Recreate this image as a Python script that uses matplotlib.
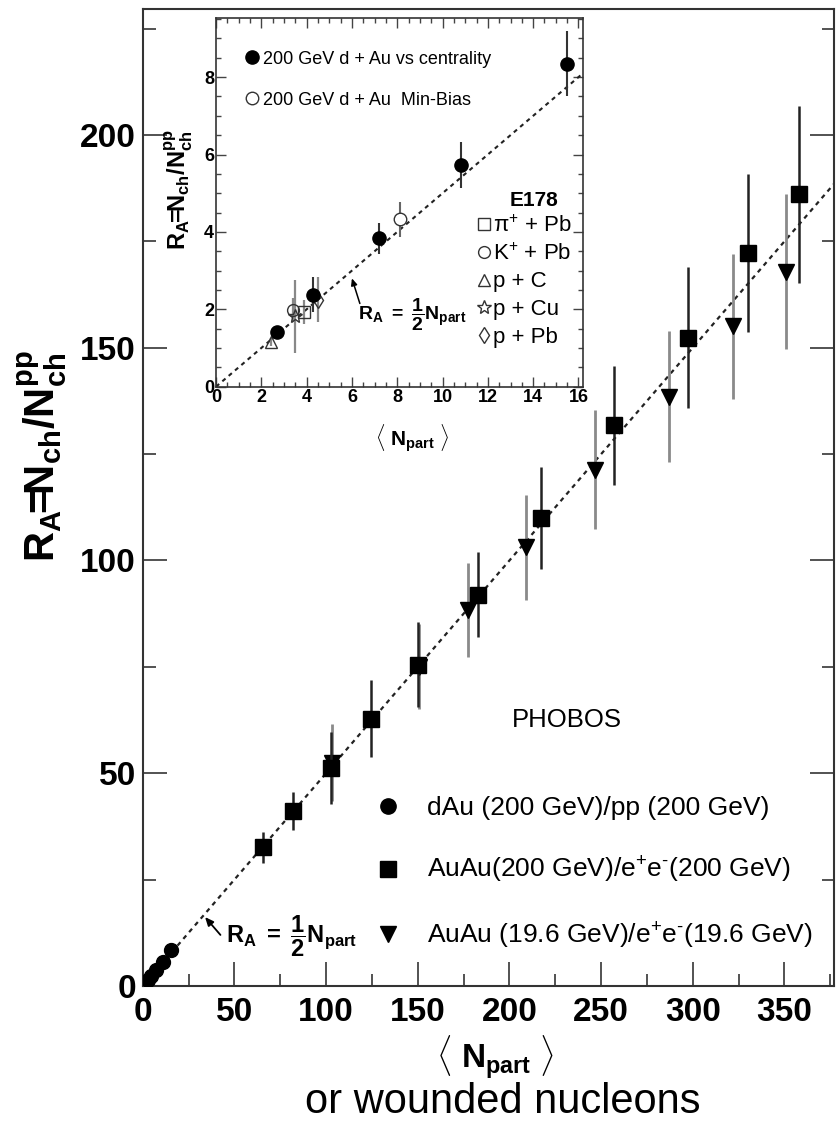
import matplotlib
matplotlib.use('Agg')
import matplotlib.pyplot as plt
from matplotlib.lines import Line2D
from matplotlib.ticker import MultipleLocator

plt.rcParams['font.family'] = ['Liberation Sans', 'DejaVu Sans']
plt.rcParams['mathtext.fontset'] = 'custom'
plt.rcParams['mathtext.rm'] = 'Liberation Sans'
plt.rcParams['mathtext.bf'] = 'Liberation Sans:bold'
plt.rcParams['mathtext.it'] = 'Liberation Sans:italic'
plt.rcParams['mathtext.sf'] = 'Liberation Sans'

# ---------------- data ----------------
dau_npart = [2.7, 4.3, 7.2, 10.8, 15.5]
dau_ra = [1.42, 2.38, 3.83, 5.73, 8.35]
dau_err = [0.12, 0.45, 0.40, 0.60, 0.85]

minbias_npart = [8.1]
minbias_ra = [4.33]
minbias_err = [0.45]

e178_labels = ['π$^{+}$ + Pb', 'K$^{+}$ + Pb', 'p + C', 'p + Cu', 'p + Pb']
e178_markers = ['s', 'o', '^', '*', 'd']
e178_npart = [3.88, 3.42, 2.42, 3.48, 4.52]
e178_ra = [1.93, 1.98, 1.15, 1.82, 2.25]
e178_err = [0.30, 0.30, 0.10, 0.95, 0.58]

auau200_npart = [65.4, 82.1, 102.6, 124.3, 150.4, 182.8, 217.0, 257.0, 297.5, 330.2, 358.0]
auau200_ra = [32.6, 41.2, 51.3, 62.8, 75.5, 91.9, 110.0, 131.8, 152.4, 172.2, 186.1]
auau200_err = [3.6, 4.5, 8.5, 9.0, 10.0, 10.0, 12.0, 14.0, 16.6, 18.6, 20.8]

auau19_npart = [103.5, 150.5, 177.3, 209.2, 246.6, 286.8, 321.7, 350.8]
auau19_ra = [52.5, 75.0, 88.4, 103.1, 121.3, 138.5, 155.0, 167.9]
auau19_err = [9.0, 10.0, 11.0, 12.3, 14.0, 15.4, 17.0, 18.2]

main_line_npart = [0, 377]
main_line_ra = [0, 188.5]
inset_line_npart = [0, 16.2]
inset_line_ra = [0, 8.1]

main_labels = ['dAu (200 GeV)/pp (200 GeV)',
               r'AuAu(200 GeV)/e$^{+}$e$^{\text{-}}$(200 GeV)',
               r'AuAu (19.6 GeV)/e$^{+}$e$^{\text{-}}$(19.6 GeV)']
inset_labels = ['200 GeV d + Au vs centrality', '200 GeV d + Au  Min-Bias']

ylabel_txt = r'$\mathbf{R_A\!\!=\!\!N_{ch}/N_{ch}^{pp}}$'
ratext = r'$\mathbf{R}_{\mathbf{A}}\ \mathbf{=}\ \dfrac{\mathbf{1}}{\mathbf{2}}\mathbf{N}_{\mathbf{part}}$'

# ---------------- figure ----------------
W, H = 840, 1123
fig = plt.figure(figsize=(W / 100, H / 100), dpi=100)

def fx(px):
    return px / W

def fy(py):
    return 1 - py / H

ax = fig.add_axes([fx(142.7), fy(986), fx(834) - fx(142.7), fy(9) - fy(986)])
ax.set_xlim(0, 377)
ax.set_ylim(0, 229.6)

ax.plot(main_line_npart, main_line_ra, color='#222222', lw=1.6, ls=(0, (2, 2)), zorder=2)

ax.errorbar(auau19_npart, auau19_ra, yerr=auau19_err, fmt='none', ecolor='#8a8a8a',
            elinewidth=2.0, capsize=0, zorder=3)
ax.plot(auau19_npart, auau19_ra, 'v', color='black', ms=12, zorder=4)
ax.errorbar(auau200_npart, auau200_ra, yerr=auau200_err, fmt='none', ecolor='#222222',
            elinewidth=1.8, capsize=0, zorder=5)
ax.plot(auau200_npart, auau200_ra, 's', color='black', ms=11, zorder=6)
ax.plot(dau_npart, dau_ra, 'o', color='black', ms=10, zorder=6)

for side in ['left', 'right', 'top', 'bottom']:
    ax.spines[side].set_linewidth(1.5)
    ax.spines[side].set_color('#333333')
ax.xaxis.set_major_locator(MultipleLocator(50))
ax.xaxis.set_minor_locator(MultipleLocator(25))
ax.yaxis.set_major_locator(MultipleLocator(50))
ax.yaxis.set_minor_locator(MultipleLocator(25))
ax.tick_params(which='both', direction='in', left=True, right=True, bottom=True, top=False,
               color='#444444')
ax.tick_params(which='major', length=17, width=1.3)
ax.tick_params(which='minor', length=9, width=1.3)
ax.tick_params(axis='x', which='major', pad=8)
ax.tick_params(axis='y', which='major', pad=5)
for lab in ax.get_xticklabels() + ax.get_yticklabels():
    lab.set_fontsize(24)
    lab.set_fontweight('bold')

handles = [Line2D([], [], marker='o', ls='none', color='black', ms=11),
           Line2D([], [], marker='s', ls='none', color='black', ms=11),
           Line2D([], [], marker='v', ls='none', color='black', ms=12)]
leg = ax.legend(handles, main_labels, loc='upper left',
                bbox_to_anchor=(fx(374.7), fy(796)), bbox_transform=fig.transFigure,
                frameon=False, fontsize=19, handlelength=1.0, handletextpad=1.0,
                labelspacing=1.33, borderpad=0, borderaxespad=0)

ax.annotate('', xy=(34, 16.2), xytext=(42.4, 12.0),
            arrowprops=dict(arrowstyle='-|>,head_length=0.5,head_width=0.22',
                            color='black', lw=1.3, shrinkA=0, shrinkB=0))
ax.text(45.5, 10.0, ratext, fontsize=17, va='baseline', ha='left')

fig.text(fx(566.7), fy(720), 'PHOBOS', fontsize=18.5, ha='center', va='center')

fig.text(fx(42), fy(456), ylabel_txt, rotation=90, fontsize=30, ha='center', va='center')
fig.text(fx(495), fy(1057), r'$\langle\ \mathbf{N}_{\mathbf{part}}\ \rangle$', fontsize=24,
         ha='center', va='center')
fig.text(fx(503), fy(1102), 'or wounded nucleons', fontsize=30, ha='center', va='center')

# ---------------- inset ----------------
axi = fig.add_axes([fx(216), fy(386.7), fx(583) - fx(216), fy(18.3) - fy(386.7)])
axi.set_facecolor('white')
axi.set_xlim(0, 16.2)
axi.set_ylim(0, 9.52)

axi.plot(inset_line_npart, inset_line_ra, color='#222222', lw=1.5, ls=(0, (2, 2)), zorder=2)
for xv, yv, ev, mk in zip(e178_npart, e178_ra, e178_err, e178_markers):
    axi.errorbar([xv], [yv], yerr=[ev], fmt='none', ecolor='#888888', elinewidth=1.6,
                 capsize=0, zorder=3)
    axi.plot([xv], [yv], marker=mk, ls='none', mfc='none', mec='#333333', mew=1.0,
             ms=10 if mk == '*' else 8.5, zorder=4)
axi.errorbar(dau_npart, dau_ra, yerr=dau_err, fmt='none', ecolor='#333333', elinewidth=1.5,
             capsize=0, zorder=3)
axi.plot(dau_npart, dau_ra, 'o', color='black', ms=9.5, zorder=5)
axi.errorbar(minbias_npart, minbias_ra, yerr=minbias_err, fmt='none', ecolor='#666666',
             elinewidth=1.5, capsize=0, zorder=3)
axi.plot(minbias_npart, minbias_ra, 'o', mfc='white', mec='#333333', mew=1.0, ms=9, zorder=5)

for side in ['left', 'right', 'top', 'bottom']:
    axi.spines[side].set_linewidth(1.2)
    axi.spines[side].set_color('#333333')
axi.xaxis.set_major_locator(MultipleLocator(2))
axi.xaxis.set_minor_locator(MultipleLocator(0.5))
axi.yaxis.set_major_locator(MultipleLocator(2))
axi.yaxis.set_minor_locator(MultipleLocator(0.5))
axi.tick_params(which='both', direction='in', left=True, right=True, bottom=True, top=True,
                color='#444444', width=1.0, pad=1.5)
axi.tick_params(which='major', length=7)
axi.tick_params(which='minor', length=3.5)
for lab in axi.get_xticklabels() + axi.get_yticklabels():
    lab.set_fontsize(13)
    lab.set_fontweight('bold')

axi.set_ylabel(ylabel_txt, fontsize=17)
axi.yaxis.set_label_coords(-0.057, 0.534)
axi.set_xlabel(r'$\langle\ \mathbf{N}_{\mathbf{part}}\ \rangle$', fontsize=15)
axi.xaxis.set_label_coords(0.534, -0.096)

h_in = [Line2D([], [], marker='o', ls='none', color='black', ms=9.5),
        Line2D([], [], marker='o', ls='none', mfc='white', mec='#333333', mew=1.0, ms=9)]
leg1 = axi.legend(h_in, inset_labels, loc='upper left',
                  bbox_to_anchor=(fx(245.4), fy(50.8)), bbox_transform=fig.transFigure,
                  frameon=False, fontsize=13, handlelength=0.7, handletextpad=0.3,
                  labelspacing=1.33, borderpad=0, borderaxespad=0)
axi.add_artist(leg1)

fig.text(fx(534), fy(201), 'E178', fontsize=15, fontweight='bold', ha='center', va='center')
h_e = [Line2D([], [], marker=mk, ls='none', mfc='none', mec='#333333', mew=1.0,
              ms=10 if mk == '*' else 8.5) for mk in e178_markers]
leg2 = axi.legend(h_e, e178_labels, loc='upper left',
                  bbox_to_anchor=(fx(477.5), fy(215)), bbox_transform=fig.transFigure,
                  frameon=False, fontsize=16, handlelength=0.55, handletextpad=0.15,
                  labelspacing=0.3, borderpad=0, borderaxespad=0)

axi.annotate('', xy=(6.0, 2.8), xytext=(6.35, 2.15),
             arrowprops=dict(arrowstyle='-|>,head_length=0.4,head_width=0.18',
                             color='black', lw=1.1, shrinkA=0, shrinkB=0))
axi.text(6.27, 1.72, ratext, fontsize=14, va='baseline', ha='left')

fig.savefig('out.png', dpi=100)
